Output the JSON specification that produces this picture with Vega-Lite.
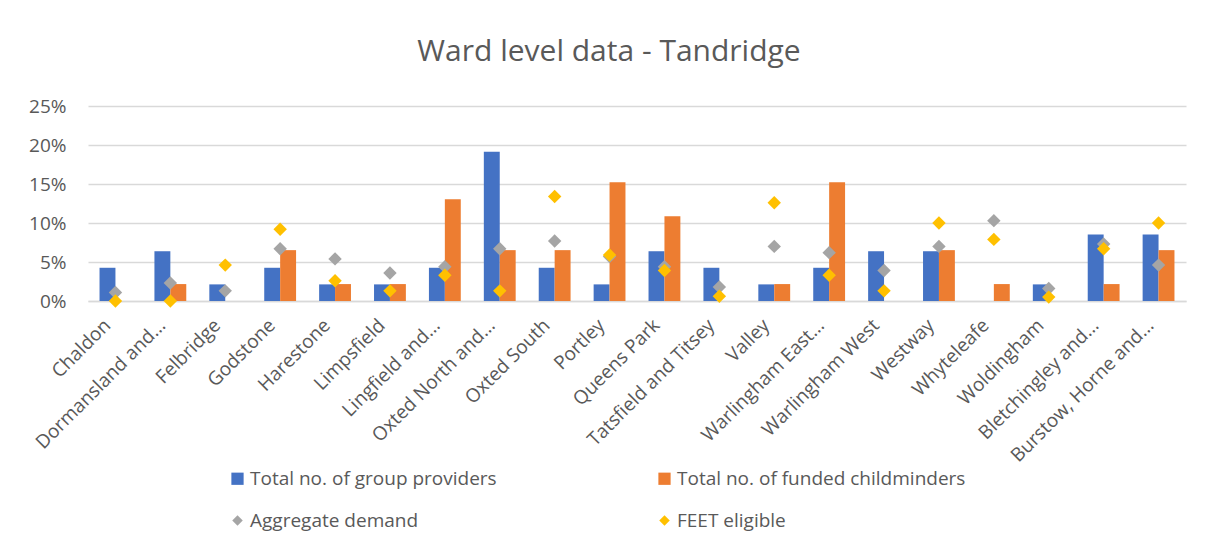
{
  "$schema": "https://vega.github.io/schema/vega-lite/v6.json",
  "autosize": {"type": "none"},
  "width": 1098,
  "height": 195,
  "padding": {"left": 88, "top": 106, "right": 20, "bottom": 247},
  "background": "white",
  "config": {
    "font": "Open Sans",
    "view": {"stroke": null}
  },
  "title": {
    "text": "Ward level data - Tandridge",
    "fontSize": 30,
    "font": "Open Sans",
    "fontWeight": "normal",
    "color": "#595959",
    "anchor": "middle",
    "dx": -28,
    "offset": 30
  },
  "data": {
    "values": [
      {"ward": "Chaldon", "series": "Total no. of group providers", "value": 0.0426},
      {"ward": "Dormansland and...", "series": "Total no. of group providers", "value": 0.0638},
      {"ward": "Felbridge", "series": "Total no. of group providers", "value": 0.0213},
      {"ward": "Godstone", "series": "Total no. of group providers", "value": 0.0426},
      {"ward": "Harestone", "series": "Total no. of group providers", "value": 0.0213},
      {"ward": "Limpsfield", "series": "Total no. of group providers", "value": 0.0213},
      {"ward": "Lingfield and...", "series": "Total no. of group providers", "value": 0.0426},
      {"ward": "Oxted North and...", "series": "Total no. of group providers", "value": 0.1915},
      {"ward": "Oxted South", "series": "Total no. of group providers", "value": 0.0426},
      {"ward": "Portley", "series": "Total no. of group providers", "value": 0.0213},
      {"ward": "Queens Park", "series": "Total no. of group providers", "value": 0.0638},
      {"ward": "Tatsfield and Titsey", "series": "Total no. of group providers", "value": 0.0426},
      {"ward": "Valley", "series": "Total no. of group providers", "value": 0.0213},
      {"ward": "Warlingham East...", "series": "Total no. of group providers", "value": 0.0426},
      {"ward": "Warlingham West", "series": "Total no. of group providers", "value": 0.0638},
      {"ward": "Westway", "series": "Total no. of group providers", "value": 0.0638},
      {"ward": "Whyteleafe", "series": "Total no. of group providers", "value": 0},
      {"ward": "Woldingham", "series": "Total no. of group providers", "value": 0.0213},
      {"ward": "Bletchingley and...", "series": "Total no. of group providers", "value": 0.0851},
      {"ward": "Burstow, Horne and...", "series": "Total no. of group providers", "value": 0.0851},

      {"ward": "Chaldon", "series": "Total no. of funded childminders", "value": 0},
      {"ward": "Dormansland and...", "series": "Total no. of funded childminders", "value": 0.0217},
      {"ward": "Felbridge", "series": "Total no. of funded childminders", "value": 0},
      {"ward": "Godstone", "series": "Total no. of funded childminders", "value": 0.0652},
      {"ward": "Harestone", "series": "Total no. of funded childminders", "value": 0.0217},
      {"ward": "Limpsfield", "series": "Total no. of funded childminders", "value": 0.0217},
      {"ward": "Lingfield and...", "series": "Total no. of funded childminders", "value": 0.1304},
      {"ward": "Oxted North and...", "series": "Total no. of funded childminders", "value": 0.0652},
      {"ward": "Oxted South", "series": "Total no. of funded childminders", "value": 0.0652},
      {"ward": "Portley", "series": "Total no. of funded childminders", "value": 0.1522},
      {"ward": "Queens Park", "series": "Total no. of funded childminders", "value": 0.1087},
      {"ward": "Tatsfield and Titsey", "series": "Total no. of funded childminders", "value": 0},
      {"ward": "Valley", "series": "Total no. of funded childminders", "value": 0.0217},
      {"ward": "Warlingham East...", "series": "Total no. of funded childminders", "value": 0.1522},
      {"ward": "Warlingham West", "series": "Total no. of funded childminders", "value": 0},
      {"ward": "Westway", "series": "Total no. of funded childminders", "value": 0.0652},
      {"ward": "Whyteleafe", "series": "Total no. of funded childminders", "value": 0.0217},
      {"ward": "Woldingham", "series": "Total no. of funded childminders", "value": 0},
      {"ward": "Bletchingley and...", "series": "Total no. of funded childminders", "value": 0.0217},
      {"ward": "Burstow, Horne and...", "series": "Total no. of funded childminders", "value": 0.0652},

      {"ward": "Chaldon", "series": "Aggregate demand", "value": 0.011},
      {"ward": "Dormansland and...", "series": "Aggregate demand", "value": 0.023},
      {"ward": "Felbridge", "series": "Aggregate demand", "value": 0.013},
      {"ward": "Godstone", "series": "Aggregate demand", "value": 0.067},
      {"ward": "Harestone", "series": "Aggregate demand", "value": 0.054},
      {"ward": "Limpsfield", "series": "Aggregate demand", "value": 0.036},
      {"ward": "Lingfield and...", "series": "Aggregate demand", "value": 0.044},
      {"ward": "Oxted North and...", "series": "Aggregate demand", "value": 0.067},
      {"ward": "Oxted South", "series": "Aggregate demand", "value": 0.077},
      {"ward": "Portley", "series": "Aggregate demand", "value": 0.057},
      {"ward": "Queens Park", "series": "Aggregate demand", "value": 0.044},
      {"ward": "Tatsfield and Titsey", "series": "Aggregate demand", "value": 0.018},
      {"ward": "Valley", "series": "Aggregate demand", "value": 0.070},
      {"ward": "Warlingham East...", "series": "Aggregate demand", "value": 0.062},
      {"ward": "Warlingham West", "series": "Aggregate demand", "value": 0.039},
      {"ward": "Westway", "series": "Aggregate demand", "value": 0.070},
      {"ward": "Whyteleafe", "series": "Aggregate demand", "value": 0.103},
      {"ward": "Woldingham", "series": "Aggregate demand", "value": 0.016},
      {"ward": "Bletchingley and...", "series": "Aggregate demand", "value": 0.073},
      {"ward": "Burstow, Horne and...", "series": "Aggregate demand", "value": 0.046},

      {"ward": "Chaldon", "series": "FEET eligible", "value": 0.0},
      {"ward": "Dormansland and...", "series": "FEET eligible", "value": 0.0},
      {"ward": "Felbridge", "series": "FEET eligible", "value": 0.046},
      {"ward": "Godstone", "series": "FEET eligible", "value": 0.092},
      {"ward": "Harestone", "series": "FEET eligible", "value": 0.026},
      {"ward": "Limpsfield", "series": "FEET eligible", "value": 0.013},
      {"ward": "Lingfield and...", "series": "FEET eligible", "value": 0.033},
      {"ward": "Oxted North and...", "series": "FEET eligible", "value": 0.013},
      {"ward": "Oxted South", "series": "FEET eligible", "value": 0.134},
      {"ward": "Portley", "series": "FEET eligible", "value": 0.059},
      {"ward": "Queens Park", "series": "FEET eligible", "value": 0.039},
      {"ward": "Tatsfield and Titsey", "series": "FEET eligible", "value": 0.006},
      {"ward": "Valley", "series": "FEET eligible", "value": 0.126},
      {"ward": "Warlingham East...", "series": "FEET eligible", "value": 0.033},
      {"ward": "Warlingham West", "series": "FEET eligible", "value": 0.013},
      {"ward": "Westway", "series": "FEET eligible", "value": 0.100},
      {"ward": "Whyteleafe", "series": "FEET eligible", "value": 0.079},
      {"ward": "Woldingham", "series": "FEET eligible", "value": 0.005},
      {"ward": "Bletchingley and...", "series": "FEET eligible", "value": 0.067},
      {"ward": "Burstow, Horne and...", "series": "FEET eligible", "value": 0.100}
    ]
  },
  "encoding": {
    "x": {
      "field": "ward",
      "type": "nominal",
      "sort": null,
      "scale": {"paddingInner": 0.42, "paddingOuter": 0.21},
      "axis": {
        "title": null,
        "labelAngle": -45,
        "labelAlign": "right",
        "labelBaseline": "middle",
        "labelFontSize": 19,
        "labelColor": "#595959",
        "labelPadding": 21,
        "labelOffset": -8,
        "labelLimit": 300,
        "ticks": false,
        "domainColor": "#D9D9D9",
        "domainWidth": 1.5
      }
    },
    "y": {
      "field": "value",
      "type": "quantitative",
      "scale": {"domain": [0, 0.25]},
      "axis": {
        "title": null,
        "format": ".0%",
        "values": [0, 0.05, 0.1, 0.15, 0.2, 0.25],
        "labelFontSize": 19,
        "labelColor": "#595959",
        "labelPadding": 22,
        "ticks": false,
        "domain": false,
        "gridColor": "#D9D9D9",
        "gridWidth": 1.5
      }
    },
    "color": {
      "field": "series",
      "type": "nominal",
      "scale": {
        "domain": ["Total no. of group providers", "Total no. of funded childminders", "Aggregate demand", "FEET eligible"],
        "range": ["#4472C4", "#ED7D31", "#A5A5A5", "#FFC000"]
      },
      "legend": {
        "title": null,
        "orient": "none",
        "legendX": 140,
        "legendY": 363,
        "direction": "horizontal",
        "columns": 2,
        "columnPadding": 158,
        "rowPadding": 22,
        "labelFontSize": 19,
        "labelColor": "#595959",
        "labelLimit": 400,
        "labelOffset": 3,
        "symbolSize": 140,
        "symbolStrokeWidth": 0,
        "symbolOpacity": 1,
        "encode": {
          "symbols": {
            "update": {
              "shape": {"signal": "indexof(['Aggregate demand','FEET eligible'], datum.value) >= 0 ? 'diamond' : 'square'"},
              "size": {"signal": "indexof(['Aggregate demand','FEET eligible'], datum.value) >= 0 ? 110 : 150"}
            }
          }
        }
      }
    }
  },
  "layer": [
    {
      "transform": [{"filter": "datum.series == 'Total no. of group providers' || datum.series == 'Total no. of funded childminders'"}],
      "mark": {"type": "bar"},
      "encoding": {
        "xOffset": {
          "field": "series",
          "type": "nominal",
          "sort": ["Total no. of group providers", "Total no. of funded childminders"],
          "scale": {"paddingInner": 0, "paddingOuter": 0}
        }
      }
    },
    {
      "transform": [{"filter": "datum.series == 'Aggregate demand'"}],
      "mark": {"type": "point", "shape": "diamond", "filled": true, "size": 180, "opacity": 1, "strokeWidth": 0}
    },
    {
      "transform": [{"filter": "datum.series == 'FEET eligible'"}],
      "mark": {"type": "point", "shape": "diamond", "filled": true, "size": 180, "opacity": 1, "strokeWidth": 0}
    }
  ]
}
